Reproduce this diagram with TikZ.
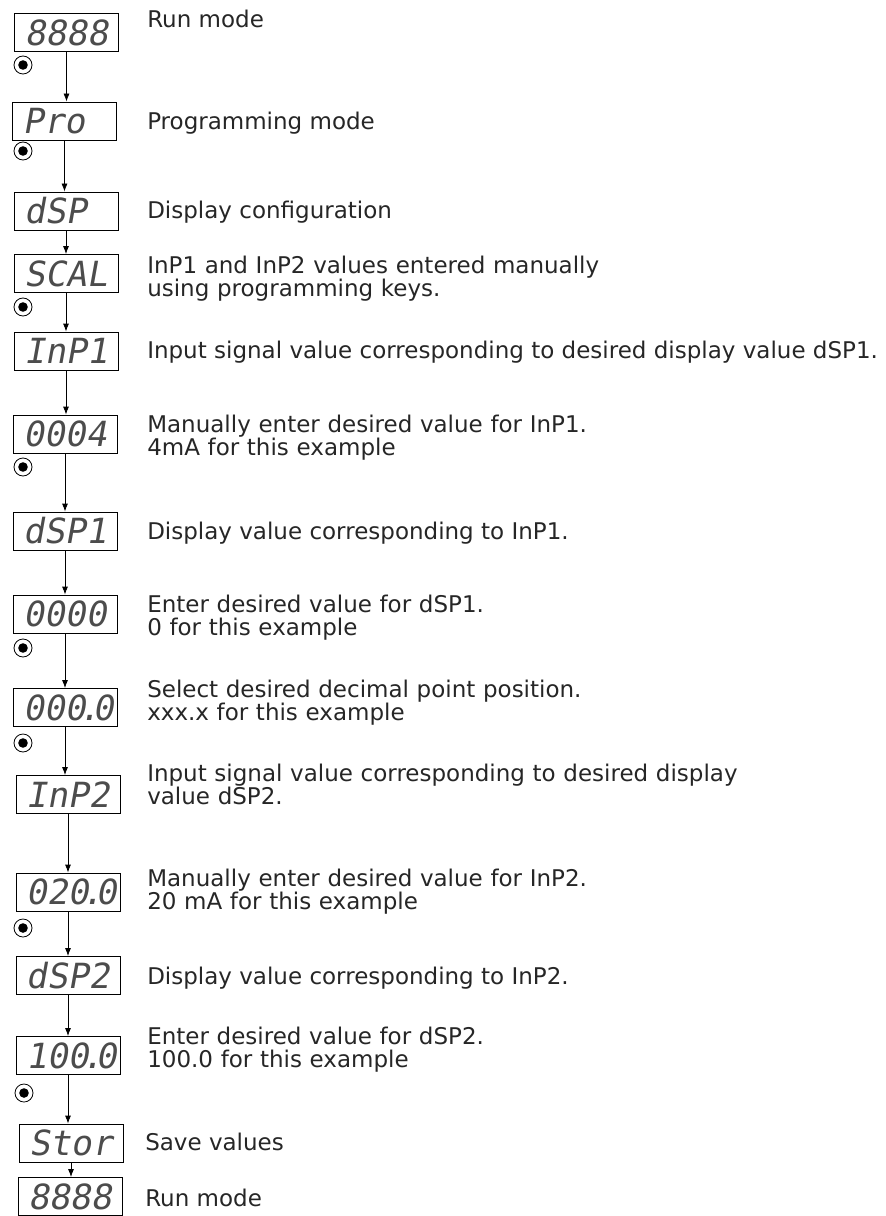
\documentclass[tikz,border=0pt]{standalone}
\usepackage{fontspec}
\setmainfont{DejaVu Sans}
\newfontfamily\segfont{DejaVu Sans Mono}[FakeSlant=0.18]
\usetikzlibrary{arrows.meta}
\newcommand{\segdot}{\kern-0.2em.\kern-0.2em}
\begin{document}
\begin{tikzpicture}[x=0.75pt,y=0.75pt,yscale=-1,xscale=1,
  disp/.style={draw, line width=0.6pt, minimum width=78pt, minimum height=28.5pt, inner xsep=7.5pt, inner ysep=0pt, text width=63pt, align=left, text height=19pt, text depth=0pt, font=\segfont\fontsize{26}{26}\selectfont, text=black!70},
  desc/.style={anchor=base west, inner sep=0pt, font=\fontsize{17.25}{17.25}\selectfont, text=black!85},
  desc2/.style={desc, text width=480pt, align=left},
  btn/.style={circle, draw, line width=0.6pt, minimum size=13.5pt, inner sep=0pt, path picture={\fill (path picture bounding box.center) circle (3.6pt);}},
  arr/.style={line width=0.6pt, -{Latex[length=6pt,width=4.5pt]}}]
\useasboundingbox (0,0) rectangle (885,1216);

%Shape: Displays
\draw (66.5,32.5) node [disp] (d1) {8888};
\draw (64.5,121) node [disp] (d2) {Pro};
\draw (66,211) node [disp] (d3) {dSP};
\draw (66,273.5) node [disp] (d4) {SCAL};
\draw (66,351) node [disp] (d5) {InP1};
\draw (65,434) node [disp] (d6) {0004};
\draw (65,531) node [disp] (d7) {dSP1};
\draw (65,614) node [disp] (d8) {0000};
\draw (65,707.5) node [disp] (d9) {000\segdot0};
\draw (68,794.5) node [disp] (d10) {InP2};
\draw (68,892) node [disp] (d11) {020\segdot0};
\draw (68,975.5) node [disp] (d12) {dSP2};
\draw (68,1055.5) node [disp] (d13) {100\segdot0};
\draw (71,1143) node [disp] (d14) {Stor};
\draw (70,1196.5) node [disp] (d15) {8888};

%Shape: Keys
\draw (23,65) node [btn] (b1) {};
\draw (23,151) node [btn] (b2) {};
\draw (23,307) node [btn] (b3) {};
\draw (23,467) node [btn] (b4) {};
\draw (23,648) node [btn] (b5) {};
\draw (23,743) node [btn] (b6) {};
\draw (23,928) node [btn] (b7) {};
\draw (24,1093) node [btn] (b8) {};

%Straight Lines
\draw [arr] (d1.south) -- (d1.south |- d2.north);
\draw [arr] (d2.south) -- (d2.south |- d3.north);
\draw [arr] (d3.south) -- (d3.south |- d4.north);
\draw [arr] (d4.south) -- (d4.south |- d5.north);
\draw [arr] (d5.south) -- (d5.south |- d6.north);
\draw [arr] (d6.south) -- (d6.south |- d7.north);
\draw [arr] (d7.south) -- (d7.south |- d8.north);
\draw [arr] (d8.south) -- (d8.south |- d9.north);
\draw [arr] (d9.south) -- (d9.south |- d10.north);
\draw [arr] (d10.south) -- (d10.south |- d11.north);
\draw [arr] (d11.south) -- (d11.south |- d12.north);
\draw [arr] (d12.south) -- (d12.south |- d13.north);
\draw [arr] (d13.south) -- (d13.south |- d14.north);
\draw [arr] (d14.south) -- (d14.south |- d15.north);

% Text Node
\draw (147,28) node [desc] (t1) {Run mode};
% Text Node
\draw (147,130) node [desc] (t2) {Programming mode};
% Text Node
\draw (147,219) node [desc] (t3) {Display configuration};
% Text Node
\draw (147,273) node [desc2] (t4) {InP1 and InP2 values entered manually\\using programming keys.};
% Text Node
\draw (147,358) node [desc] (t5) {Input signal value corresponding to desired display value dSP1.};
% Text Node
\draw (147,432) node [desc2] (t6) {Manually enter desired value for InP1.\\4mA for this example};
% Text Node
\draw (147,539) node [desc] (t7) {Display value corresponding to InP1.};
% Text Node
\draw (147,612) node [desc2] (t8) {Enter desired value for dSP1.\\0 for this example};
% Text Node
\draw (147,697) node [desc2] (t9) {Select desired decimal point position.\\xxx.x for this example};
% Text Node
\draw (147,781) node [desc2] (t10) {Input signal value corresponding to desired display\\value dSP2.};
% Text Node
\draw (147,886) node [desc2] (t11) {Manually enter desired value for InP2.\\20 mA for this example};
% Text Node
\draw (147,984) node [desc] (t12) {Display value corresponding to InP2.};
% Text Node
\draw (147,1044) node [desc2] (t13) {Enter desired value for dSP2.\\100.0 for this example};
% Text Node
\draw (145,1150) node [desc] (t14) {Save values};
% Text Node
\draw (145,1206) node [desc] (t15) {Run mode};

\end{tikzpicture}
\end{document}
